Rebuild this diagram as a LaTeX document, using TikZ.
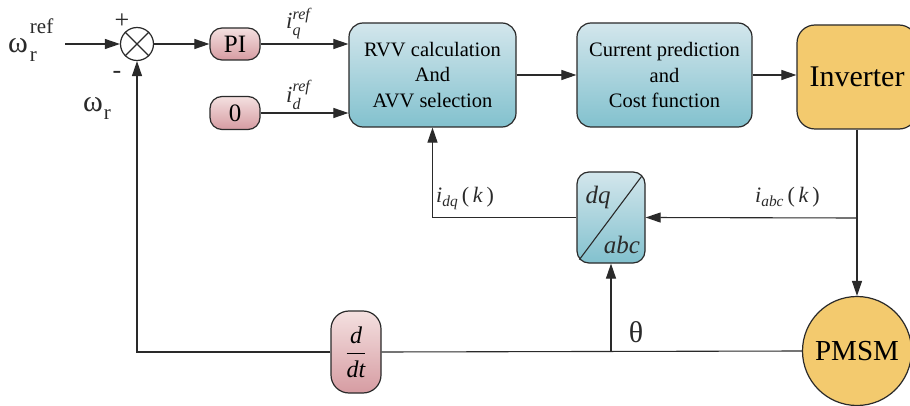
\documentclass[tikz,border=0pt]{standalone}
\usepackage{amsmath}
\usepackage{fontspec}
\setmainfont{LiberationSerif-Regular.ttf}[BoldFont=LiberationSerif-Bold.ttf, ItalicFont=LiberationSerif-Italic.ttf, BoldItalicFont=LiberationSerif-BoldItalic.ttf]
\usetikzlibrary{arrows.meta,calc}
\definecolor{pinkT}{HTML}{F4E0E0}
\definecolor{pinkB}{HTML}{D69CA2}
\definecolor{blueT}{HTML}{D3E6EC}
\definecolor{blueB}{HTML}{82C1CE}
\definecolor{orangeF}{HTML}{F3CA6E}
\definecolor{edge}{HTML}{2A2A2A}
\begin{document}
\begin{tikzpicture}[x=1pt,y=-1pt,
  box/.style={draw=edge, line width=1.2pt, rounded corners=14pt, align=center, inner sep=0pt},
  pinkbox/.style={box, top color=pinkT, bottom color=pinkB},
  bluebox/.style={box, top color=blueT, bottom color=blueB},
  orangebox/.style={box, fill=orangeF},
  conn/.style={line width=1.1pt, draw=edge},
  arr/.style={conn, -{Triangle[length=15pt,width=10pt]}},
  lbl/.style={inner sep=0pt, text=edge, font=\fontsize{22}{24}\selectfont},
  biglbl/.style={inner sep=0pt, text=edge, font=\fontsize{30}{30}\selectfont},
]
\clip (0,0) rectangle (910,406);
\fill[white] (0,0) rectangle (910,406);

% blocks
\node[circle, draw=edge, line width=1.2pt, minimum size=33pt, inner sep=0pt] (sum) at (137,44) {};
\draw[conn] (sum.north west) -- (sum.south east);
\draw[conn] (sum.south west) -- (sum.north east);
\node[pinkbox, minimum width=50pt, minimum height=32pt, rounded corners=12pt, font=\fontsize{25}{25}\selectfont] (pi) at (235,44) {PI};
\node[pinkbox, minimum width=50pt, minimum height=33pt, rounded corners=12pt, font=\fontsize{25}{25}\selectfont] (zero) at (235,113) {0};
\node[bluebox, minimum width=167pt, minimum height=104pt, font=\fontsize{20.5}{25.5}\selectfont] (rvv) at (432.5,75) {RVV calculation\\And\\AVV selection};
\node[bluebox, minimum width=175pt, minimum height=104pt, font=\fontsize{20.5}{25.5}\selectfont] (cp) at (664.5,75) {Current prediction\\and\\Cost function};
\node[orangebox, minimum width=120pt, minimum height=104pt, rounded corners=18pt, font=\fontsize{30}{30}\selectfont] (inv) at (857,77) {Inverter};
\node[bluebox, minimum width=68pt, minimum height=91pt, rounded corners=12pt] (dq) at (611,217.5) {};
\draw[conn] ($(dq.south west)+(3,-4)$) -- ($(dq.north east)+(-4,5)$);
\node[inner sep=0pt, text=edge, font=\itshape\fontsize{25}{25}\selectfont] (dqt) at (598,197) {dq};
\node[inner sep=0pt, text=edge, font=\itshape\fontsize{25}{25}\selectfont] (abct) at (622,245) {abc};
\node[circle, fill=orangeF, draw=edge, line width=1.2pt, minimum size=109pt, inner sep=0pt, font=\fontsize{29}{29}\selectfont] (pmsm) at (857,351) {PMSM};
\node[pinkbox, minimum width=50pt, minimum height=82pt, rounded corners=18pt, font=\fontsize{24}{24}\selectfont] (ddt) at (356,352) {$\dfrac{\textit{d}}{\textit{dt}}$};

% connectors
\coordinate (in) at (65,44);
\draw[arr] (in) -- (sum.west);
\draw[arr] (sum.east) -- (pi.west);
\draw[arr] (pi.east) -- (pi.east -| rvv.west);
\draw[arr] (zero.east) -- (zero.east -| rvv.west);
\draw[arr] (rvv.east) -- (cp.west);
\draw[arr] (cp.east) -- (cp.east -| inv.west);
\draw[arr] (inv.south) -- (pmsm.north);
\coordinate (tap) at (857,218);
\draw[arr] (tap) -- (dq.east);
\draw[arr] (dq.west) -| (rvv.south);
\draw[conn] (pmsm.west) -- (ddt.east);
\draw[arr] (ddt.west) -| (sum.south);
\coordinate (th) at (611,352);
\draw[arr] (th) -- (dq.south);

% labels
\node[biglbl, anchor=base west] (wref) at (8,53) {ω\kern2pt\rlap{\raisebox{19pt}{\fontsize{21}{21}\selectfont ref}}\raisebox{-9pt}{\fontsize{21}{21}\selectfont r}};
\node[biglbl, anchor=base west] (wr) at (83,112) {ω\kern1pt\raisebox{-8pt}{\fontsize{21}{21}\selectfont r}};
\node[lbl, font=\fontsize{26}{26}\selectfont] (plus) at (122,21) {+};
\node[lbl, font=\fontsize{26}{26}\selectfont] (minus) at (117,75) {-};
\node[lbl, anchor=base west, font=\fontsize{23}{23}\selectfont] (iq) at (286,29) {\textit{i}$_{\textit{q}}^{\textit{ref}}$};
\node[lbl, anchor=base west, font=\fontsize{23}{23}\selectfont] (id) at (286,103) {\textit{i}$_{\textit{d}}^{\textit{ref}}$};
\node[lbl, anchor=base west] (idq) at (436,203) {\textit{i}$_{\textit{dq}}$\,(\,\textit{k}\,)};
\node[lbl, anchor=base west] (iabc) at (755,203) {\textit{i}$_{\textit{abc}}$\,(\,\textit{k}\,)};
\node[biglbl, font=\fontsize{30}{30}\selectfont] (theta) at (636,332) {θ};
\end{tikzpicture}
\end{document}
